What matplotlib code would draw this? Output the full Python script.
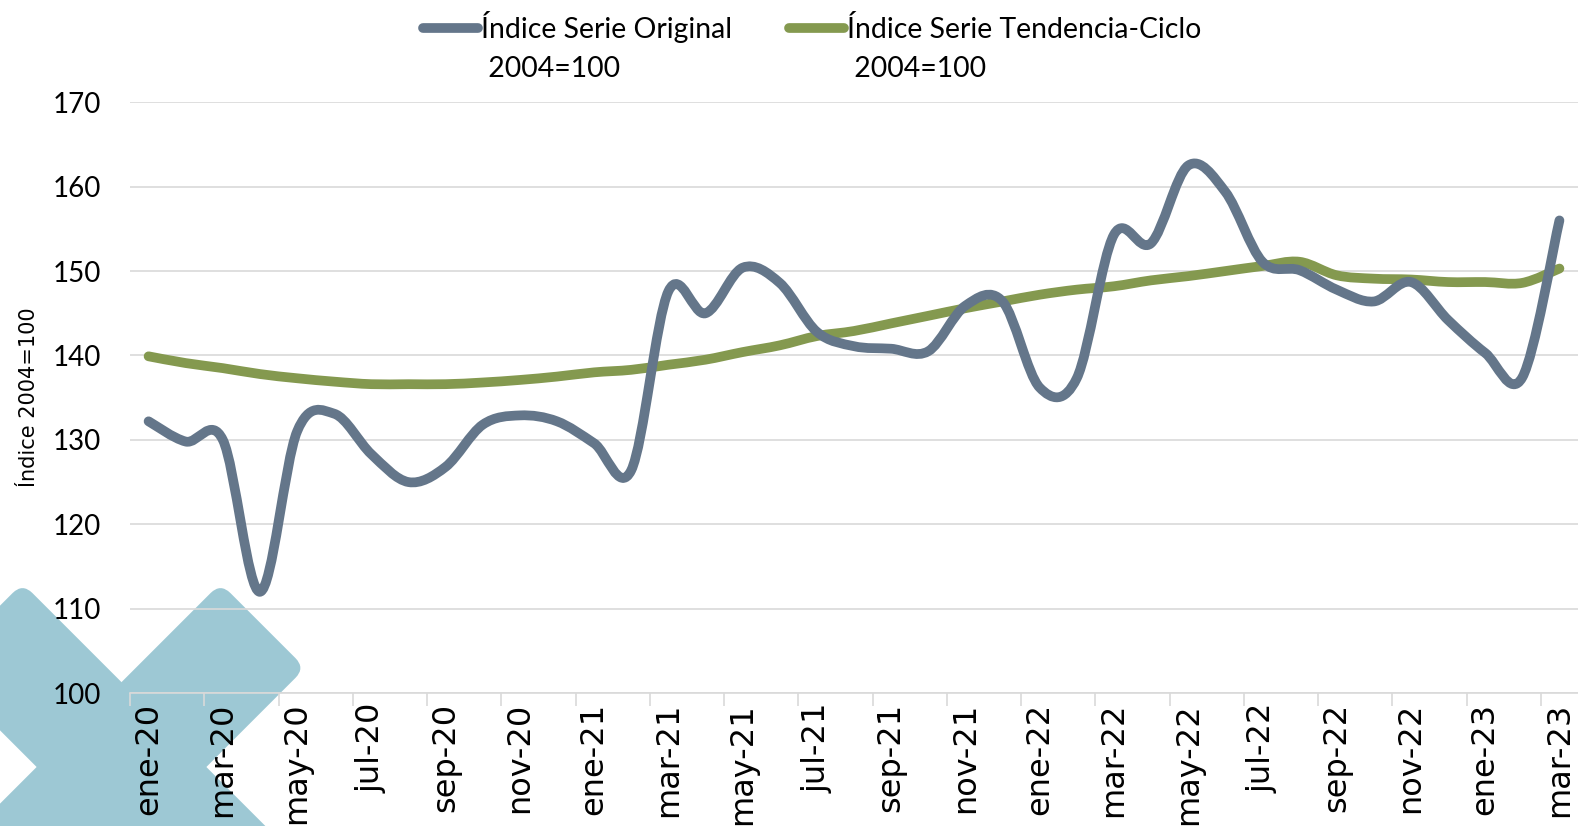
import matplotlib
matplotlib.use("Agg")
import matplotlib.pyplot as plt
from matplotlib.path import Path
from matplotlib.patches import PathPatch, FancyBboxPatch
from matplotlib.lines import Line2D
from matplotlib.transforms import Affine2D, IdentityTransform

# monthly index values, ene-20 .. mar-23
months = ["ene-20", "feb-20", "mar-20", "abr-20", "may-20", "jun-20", "jul-20", "ago-20",
          "sep-20", "oct-20", "nov-20", "dic-20", "ene-21", "feb-21", "mar-21", "abr-21",
          "may-21", "jun-21", "jul-21", "ago-21", "sep-21", "oct-21", "nov-21", "dic-21",
          "ene-22", "feb-22", "mar-22", "abr-22", "may-22", "jun-22", "jul-22", "ago-22",
          "sep-22", "oct-22", "nov-22", "dic-22", "ene-23", "feb-23", "mar-23"]

original = [132.2, 129.8, 130.0, 112.0, 131.0, 133.1, 128.3, 125.0,
            126.8, 131.8, 132.9, 132.2, 129.6, 126.4, 147.6, 145.0,
            150.4, 148.6, 142.8, 141.1, 140.8, 140.5, 145.9, 146.4,
            136.2, 137.3, 154.3, 153.3, 162.5, 159.4, 151.1, 150.1,
            147.8, 146.4, 148.7, 144.2, 140.3, 137.4, 156.0]

tendencia = [139.9, 139.1, 138.5, 137.8, 137.3, 136.9, 136.6, 136.6,
             136.6, 136.8, 137.1, 137.5, 138.0, 138.3, 138.9, 139.5,
             140.4, 141.2, 142.3, 142.9, 143.8, 144.7, 145.6, 146.4,
             147.2, 147.8, 148.2, 148.9, 149.4, 150.0, 150.6, 151.1,
             149.5, 149.1, 149.0, 148.7, 148.7, 148.6, 150.3]

label_orig = "Índice Serie Original"
label_tend = "Índice Serie Tendencia-Ciclo"
label_base = "2004=100"

gray = "#64768A"
green = "#84994F"
grid_col = "#D9D9D9"
mark_col = "#9DC8D4"

plt.rcParams["font.family"] = ["Lato", "DejaVu Sans"]


def smooth_path(xs, ys):
    # Excel-like smoothed line: cubic bezier segments through every point
    verts = [(xs[0], ys[0])]
    codes = [Path.MOVETO]
    n = len(xs)
    for i in range(n - 1):
        x0, y0 = (xs[i - 1], ys[i - 1]) if i > 0 else (xs[i], ys[i])
        x1, y1 = xs[i], ys[i]
        x2, y2 = xs[i + 1], ys[i + 1]
        x3, y3 = (xs[i + 2], ys[i + 2]) if i + 2 < n else (x2, y2)
        c1 = (x1 + (x2 - x0) / 6.0, y1 + (y2 - y0) / 6.0)
        c2 = (x2 - (x3 - x1) / 6.0, y2 - (y3 - y1) / 6.0)
        verts += [c1, c2, (x2, y2)]
        codes += [Path.CURVE4] * 3
    return Path(verts, codes)


fig = plt.figure(figsize=(15.78, 8.26), dpi=100)

# watermark "X" behind the chart, in pixel space
bg = fig.add_axes([0, 0, 1, 1], zorder=0)
bg.set_xlim(0, 1578)
bg.set_ylim(826, 0)
bg.axis("off")
cx, cy = 121.5, 767
for ang in (45, -45):
    bar = FancyBboxPatch((cx - 200, cy - 60), 400, 120,
                         boxstyle="round,pad=0,rounding_size=14",
                         facecolor=mark_col, edgecolor="none")
    bar.set_transform(Affine2D().rotate_deg_around(cx, cy, ang) + bg.transData)
    bg.add_patch(bar)

ax = fig.add_axes([0.0824, 0.1609, 0.9176, 0.7153], zorder=1)
ax.set_facecolor("none")

x = list(range(len(months)))
for ys, col in ((tendencia, green), (original, gray)):
    ax.add_patch(PathPatch(smooth_path(x, ys), fill=False, edgecolor=col, lw=7,
                           capstyle="round", joinstyle="round", zorder=3))

ax.set_xlim(-0.5, len(months) - 0.5)
ax.set_ylim(100, 170)
ax.set_yticks(range(100, 171, 10))
ax.yaxis.grid(True, color=grid_col, lw=1.2)
ax.set_axisbelow(True)

for s in ("top", "right", "left"):
    ax.spines[s].set_visible(False)
ax.spines["bottom"].set_color(grid_col)
ax.spines["bottom"].set_linewidth(1.2)

ax.set_xticks(x[::2])
ax.set_xticklabels(months[::2], rotation=90, fontsize=23, family="DejaVu Sans")
ax.set_xticks([i - 0.5 for i in x[::2]], minor=True)
ax.tick_params(axis="x", which="major", length=0, pad=7)
ax.tick_params(axis="x", which="minor", length=9, width=1.2, color=grid_col)
ax.tick_params(axis="y", length=0, pad=21, labelsize=20)

ax.set_ylabel("Índice 2004=100", fontsize=15, family="DejaVu Sans")
ax.yaxis.set_label_coords(-0.063, 0.5)

handles = [Line2D([], [], color=gray, lw=7, solid_capstyle="round"),
           Line2D([], [], color=green, lw=7, solid_capstyle="round")]
leg = fig.legend(handles, [label_orig, label_tend], loc="center", ncol=2,
                 bbox_to_anchor=(812 / 1578, 1 - 27 / 826), frameon=False,
                 fontsize=20.4, handlelength=1.95, handletextpad=0.1,
                 columnspacing=2.0, borderpad=0)

# second legend line under each entry
fig.canvas.draw()
for t in leg.get_texts():
    bb = t.get_window_extent()
    fig.text(bb.x0, bb.y0 - 13, " " + label_base, transform=IdentityTransform(),
             ha="left", va="top", fontsize=20.4)

fig.savefig("out.png", dpi=100)
